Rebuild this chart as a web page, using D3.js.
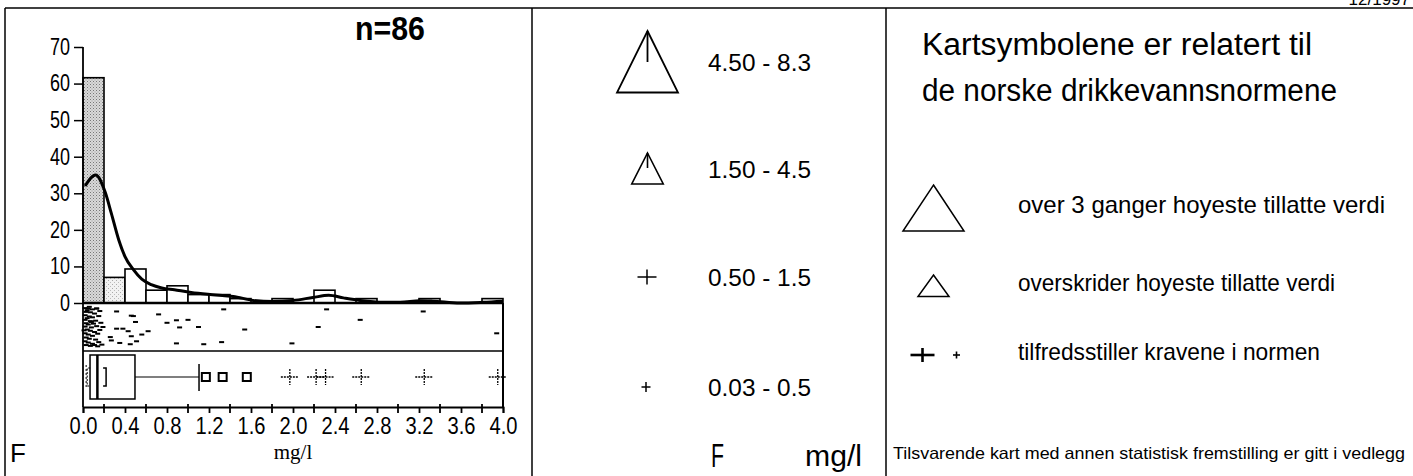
<!DOCTYPE html>
<html><head><meta charset="utf-8">
<script src="https://cdn.jsdelivr.net/npm/d3@7"></script>
<style>html,body{margin:0;padding:0;background:#fff;}svg{display:block;}</style>
</head><body>
<svg id="c" width="1413" height="476"></svg>
<script>
// ---------- data ----------
const binLefts = [0.0,0.2,0.4,0.6,0.8,1.0,1.2,1.4,1.6,1.8,2.0,2.2,2.4,2.6,2.8,3.0,3.2,3.4,3.6,3.8];
const binPercent = [61.6,7.0,9.3,3.5,4.7,2.3,2.3,1.2,0,1.2,0,3.5,0,1.2,0,0,1.2,0,0,1.2];
const kernelX = [0.02,0.12,0.21,0.27,0.34,0.40,0.48,0.56,0.65,0.75,0.87,1.03,1.19,1.35,1.43,1.62,1.81,2.0,2.19,2.34,2.48,2.64,2.86,3.02,3.21,3.33,3.59,3.81,4.0];
const kernelY = [32,35,30.4,24.5,17.3,12.7,9.1,6.5,5.0,4.1,3.6,2.9,2.4,2.0,1.8,0.7,0.4,0.7,1.5,2.1,1.4,0.7,0.2,0.2,0.6,0.5,0.0,0.2,0.5];
const yTicks = [0,10,20,30,40,50,60,70];
const xTickLabels = ["0.0","0.4","0.8","1.2","1.6","2.0","2.4","2.8","3.2","3.6","4.0"];
const xTickValues = [0.0,0.4,0.8,1.2,1.6,2.0,2.4,2.8,3.2,3.6,4.0];
const xMinorTicks = [0.2,0.6,1.0,1.4,1.8,2.2,2.6,3.0,3.4,3.8];
// jittered strip plot: value, relative row (0 top .. 1 bottom)
const stripValue = [0.02,0.05,0.09,0.13,0.03,0.07,0.11,0.02,0.06,0.04,0.09,0.15,0.02,0.07,0.12,0.03,0.05,0.10,0.17,0.02,0.08,0.13,0.04,0.07,0.11,0.02,0.05,0.09,0.14,0.03,0.06,0.12,0.02,0.05,0.09,0.15,0.03,0.07,0.11,0.18,0.04,0.16,0.06,0.14,0.08,0.01,
  0.13,0.32,0.48,0.50,0.72,0.80,0.89,1.00,0.92,1.10,1.34,1.54,2.32,2.64,2.24,3.24,3.94,0.89,1.15,1.32,1.99,0.62,0.56,0.46,0.43,0.38,0.32,0.26,0.27,0.35,0.45,0.51,0.19,0.16,0.46];
const stripRow = [0.05,0.06,0.08,0.06,0.14,0.15,0.18,0.22,0.25,0.29,0.27,0.24,0.33,0.36,0.35,0.41,0.44,0.42,0.40,0.49,0.51,0.48,0.56,0.59,0.62,0.65,0.68,0.71,0.66,0.75,0.78,0.80,0.84,0.87,0.90,0.86,0.93,0.95,0.93,0.92,0.10,0.12,0.02,0.96,0.38,0.58,
  0.06,0.13,0.24,0.38,0.20,0.40,0.34,0.33,0.51,0.50,0.08,0.56,0.08,0.33,0.50,0.13,0.65,0.89,0.91,0.86,0.89,0.60,0.68,0.72,0.60,0.54,0.54,0.74,0.82,0.88,0.91,0.84,0.50,0.57,0.23];
const boxQ1 = 0.067, boxMedian = 0.137, boxQ3 = 0.495, whiskerHigh = 1.105, whiskerLow = 0.03;
const notchLow = 0.04, notchHigh = 0.22;
const nearOutliers = [1.17,1.33,1.56];
const farOutliers = [1.97,2.22,2.31,2.65,3.25,3.95];
const sampleLabel = "n=86";
const rangeLabels = ["4.50 - 8.3","1.50 - 4.5","0.50 - 1.5","0.03 - 0.5"];
const rangeSymbols = ["bigTriangle","smallTriangle","bigPlus","smallPlus"];
const titleLines = ["Kartsymbolene er relatert til","de norske drikkevannsnormene"];
const normLabels = ["over 3 ganger hoyeste tillatte verdi","overskrider hoyeste tillatte verdi","tilfredsstiller kravene i normen"];
const footnote = "Tilsvarende kart med annen statistisk fremstilling er gitt i vedlegg";

// ---------- drawing ----------
const svg = d3.select("#c");
const sans = "'Liberation Sans',Arial,Helvetica,sans-serif";

const defs = svg.append("defs");
const p1 = defs.append("pattern").attr("id","stip").attr("width",3).attr("height",3).attr("patternUnits","userSpaceOnUse");
p1.append("rect").attr("width",3).attr("height",3).attr("fill","#d9d9d9");
p1.append("rect").attr("x",0).attr("y",0).attr("width",1).attr("height",1).attr("fill","#777");
p1.append("rect").attr("x",1.5).attr("y",1.5).attr("width",1).attr("height",1).attr("fill","#999");
const p2 = defs.append("pattern").attr("id","hatch").attr("width",4).attr("height",4).attr("patternUnits","userSpaceOnUse");
p2.append("rect").attr("width",4).attr("height",4).attr("fill","#f2f2f2");
p2.append("rect").attr("x",0).attr("y",0).attr("width",1).attr("height",1).attr("fill","#aaa");
p2.append("rect").attr("x",2).attr("y",2).attr("width",1).attr("height",1).attr("fill","#bbb");

// panel frames
const frame = svg.append("g").attr("stroke","#000").attr("stroke-width",1.5);
frame.append("line").attr("x1",5).attr("x2",1413).attr("y1",8).attr("y2",8);
[5,532,886].forEach(x=>frame.append("line").attr("x1",x).attr("x2",x).attr("y1",8).attr("y2",476));
svg.append("text").attr("x",1410).attr("y",5).attr("text-anchor","end").attr("font-family",sans).attr("font-size",17).text("12/1997");

// scales
const x = d3.scaleLinear().domain([0,4]).range([83,503]);
const y = d3.scaleLinear().domain([0,70]).range([303,47]);
const stripTop = 303, stripBot = 351, boxTop = 355, boxBot = 399, axisY = 407;

// histogram bars
const fills = binLefts.map((d,i)=> i===0 ? "url(#stip)" : (i===1 ? "url(#hatch)" : "#fff"));
svg.append("g").selectAll("rect").data(binLefts).join("rect")
  .attr("x",d=>x(d)).attr("width",d=>x(d+0.2)-x(d))
  .attr("y",(d,i)=>y(binPercent[i])).attr("height",(d,i)=>y(0)-y(binPercent[i]))
  .attr("fill",(d,i)=>fills[i]).attr("stroke","#000").attr("stroke-width",1.6);

// kernel curve
const kline = d3.line().x(d=>x(d[0])).y(d=>y(d[1])).curve(d3.curveMonotoneX);
svg.append("path").datum(kernelX.map((v,i)=>[v,kernelY[i]])).attr("d",kline)
  .attr("fill","none").attr("stroke","#000").attr("stroke-width",3);

// baseline + frames for strip and box region
svg.append("line").attr("x1",x(0)).attr("x2",x(4)).attr("y1",y(0)).attr("y2",y(0)).attr("stroke","#000").attr("stroke-width",2.5);
svg.append("line").attr("x1",x(0)).attr("x2",x(4)).attr("y1",stripBot).attr("y2",stripBot).attr("stroke","#000").attr("stroke-width",1.5);
svg.append("line").attr("x1",x(4)).attr("x2",x(4)).attr("y1",y(0)).attr("y2",axisY).attr("stroke","#000").attr("stroke-width",2);

// strip plot dashes
svg.append("g").selectAll("rect").data(stripValue).join("rect")
  .attr("x",d=>x(d)-2.5).attr("width",5)
  .attr("y",(d,i)=>stripTop+3+stripRow[i]*(stripBot-stripTop-6)-1).attr("height",2)
  .attr("fill","#000");

// box plot
const cy = (boxTop+boxBot)/2;
const bx = svg.append("g").attr("stroke","#000").attr("fill","none");
bx.append("rect").attr("x",x(boxQ1)).attr("y",boxTop).attr("width",x(boxQ3)-x(boxQ1)).attr("height",boxBot-boxTop).attr("stroke-width",1.5);
bx.append("line").attr("x1",x(boxMedian)).attr("x2",x(boxMedian)).attr("y1",boxTop).attr("y2",boxBot).attr("stroke-width",2.5);
bx.append("line").attr("x1",x(boxQ3)).attr("x2",x(whiskerHigh)).attr("y1",cy).attr("y2",cy).attr("stroke-width",1.2);
bx.append("line").attr("x1",x(whiskerHigh)).attr("x2",x(whiskerHigh)).attr("y1",cy-13).attr("y2",cy+14).attr("stroke-width",1.5);
bx.append("line").attr("x1",x(whiskerLow)).attr("x2",x(whiskerLow)).attr("y1",cy-12).attr("y2",cy+11).attr("stroke-width",1).attr("stroke-dasharray","2,2");
bx.append("path").attr("d",`M${x(notchLow)+3},${cy-9}H${x(notchLow)}V${cy+9}H${x(notchLow)+3}`).attr("stroke-width",1).attr("stroke-dasharray","2,1.5");
bx.append("path").attr("d",`M${x(notchHigh)-3},${cy-9}H${x(notchHigh)}V${cy+9}H${x(notchHigh)-3}`).attr("stroke-width",1.5);
bx.selectAll("rect.near").data(nearOutliers).join("rect").attr("class","near")
  .attr("x",d=>x(d)-4).attr("y",cy-4).attr("width",8).attr("height",8).attr("stroke-width",2);
const fo = bx.selectAll("g.far").data(farOutliers).join("g").attr("class","far").attr("stroke-width",1.3).attr("stroke-dasharray","2,1");
fo.append("line").attr("x1",d=>x(d)-9).attr("x2",d=>x(d)+9).attr("y1",cy).attr("y2",cy);
fo.append("line").attr("x1",d=>x(d)).attr("x2",d=>x(d)).attr("y1",cy-8).attr("y2",cy+8);

// y axis
const yAxis = svg.append("g").attr("transform",`translate(${x(0)},0)`)
  .call(d3.axisLeft(y).tickValues(yTicks).tickSize(9).tickPadding(4).tickFormat(d3.format("d")));
yAxis.select(".domain").remove();
yAxis.selectAll("line").attr("stroke-width",1.5);
yAxis.selectAll("text").attr("font-family",sans).attr("font-size",23).attr("fill","#000")
  .attr("textLength",d=>String(d).length*10).attr("lengthAdjust","spacingAndGlyphs");
svg.append("line").attr("x1",x(0)).attr("x2",x(0)).attr("y1",y(70)).attr("y2",axisY).attr("stroke","#000").attr("stroke-width",1.8);

// x axis
const xAxis = svg.append("g").attr("transform",`translate(0,${axisY})`)
  .call(d3.axisBottom(x).tickValues(xTickValues).tickSize(6).tickPadding(5).tickFormat((d,i)=>xTickLabels[i]));
xAxis.select(".domain").attr("stroke-width",1.8);
xAxis.selectAll("line").attr("stroke-width",1.8);
xAxis.selectAll("text").attr("font-family",sans).attr("font-size",23).attr("fill","#000")
  .attr("textLength",28).attr("lengthAdjust","spacingAndGlyphs");
svg.append("g").selectAll("line").data(xMinorTicks).join("line")
  .attr("x1",d=>x(d)).attr("x2",d=>x(d)).attr("y1",axisY-3).attr("y2",axisY+6).attr("stroke","#000").attr("stroke-width",1.8);

svg.append("text").attr("x",355).attr("y",40).attr("font-family",sans).attr("font-weight","bold").attr("font-size",33)
  .attr("textLength",70).attr("lengthAdjust","spacingAndGlyphs").text(sampleLabel);
svg.append("text").attr("x",293).attr("y",459).attr("text-anchor","middle").attr("font-family","'Liberation Serif','Times New Roman',serif").attr("font-size",21).text("mg/l");
svg.append("text").attr("x",10).attr("y",462).attr("font-family",sans).attr("font-size",26).text("F");

// middle legend (class ranges)
const legY = [62,169,277,387];
const mid = svg.append("g").attr("stroke","#000").attr("fill","none");
function tri(g,cx,top,w,h,stem,sw){
  g.append("path").attr("d",`M${cx},${top}L${cx+w/2},${top+h}L${cx-w/2},${top+h}Z`).attr("stroke-width",sw).attr("stroke-linejoin","miter");
  if(stem) g.append("line").attr("x1",cx).attr("x2",cx).attr("y1",top).attr("y2",top+stem).attr("stroke-width",sw);
}
function plus(g,cx,cy,hw,hh,sw){
  g.append("line").attr("x1",cx-hw).attr("x2",cx+hw).attr("y1",cy).attr("y2",cy).attr("stroke-width",sw);
  g.append("line").attr("x1",cx).attr("x2",cx).attr("y1",cy-hh).attr("y2",cy+hh).attr("stroke-width",sw);
}
rangeSymbols.forEach((s,i)=>{
  if(s==="bigTriangle") tri(mid,647.5,31,61,61.5,31,1.8);
  if(s==="smallTriangle") tri(mid,647.5,153,31.5,31,15,1.6);
  if(s==="bigPlus") plus(mid,647,legY[i],9.5,7.5,1.5);
  if(s==="smallPlus") plus(mid,646,legY[i],4.5,5,1.5);
});
svg.append("g").selectAll("text").data(rangeLabels).join("text")
  .attr("x",708).attr("y",(d,i)=>legY[i]+8.5).attr("font-family",sans).attr("font-size",24)
  .attr("textLength",103).attr("lengthAdjust","spacingAndGlyphs").text(d=>d);
svg.append("text").attr("x",711).attr("y",467).attr("font-family",sans).attr("font-size",34)
  .attr("textLength",13).attr("lengthAdjust","spacingAndGlyphs").text("F");
svg.append("text").attr("x",805).attr("y",466).attr("font-family",sans).attr("font-size",30)
  .attr("textLength",57).attr("lengthAdjust","spacingAndGlyphs").text("mg/l");

// right panel
const titleY = [55,101], titleW = [390,415];
svg.append("g").selectAll("text").data(titleLines).join("text")
  .attr("x",922).attr("y",(d,i)=>titleY[i]).attr("font-family",sans).attr("font-size",31)
  .attr("textLength",(d,i)=>titleW[i]).attr("lengthAdjust","spacingAndGlyphs").text(d=>d);
const normY = [205,283,352], normW = [367,317,302];
svg.append("g").selectAll("text").data(normLabels).join("text")
  .attr("x",1018).attr("y",(d,i)=>normY[i]+8).attr("font-family",sans).attr("font-size",24)
  .attr("textLength",(d,i)=>normW[i]).attr("lengthAdjust","spacingAndGlyphs").text(d=>d);
const rg = svg.append("g").attr("stroke","#000").attr("fill","none");
tri(rg,933.5,185,61,46,0,1.5);
tri(rg,933.5,275,31,21.5,0,1.5);
plus(rg,922.5,355,12,7,2.6);
plus(rg,956.5,355,3.5,3.5,1.6);
svg.append("text").attr("x",893).attr("y",459).attr("font-family",sans).attr("font-size",16.5)
  .attr("textLength",512).attr("lengthAdjust","spacingAndGlyphs").text(footnote);
</script>
</body></html>
